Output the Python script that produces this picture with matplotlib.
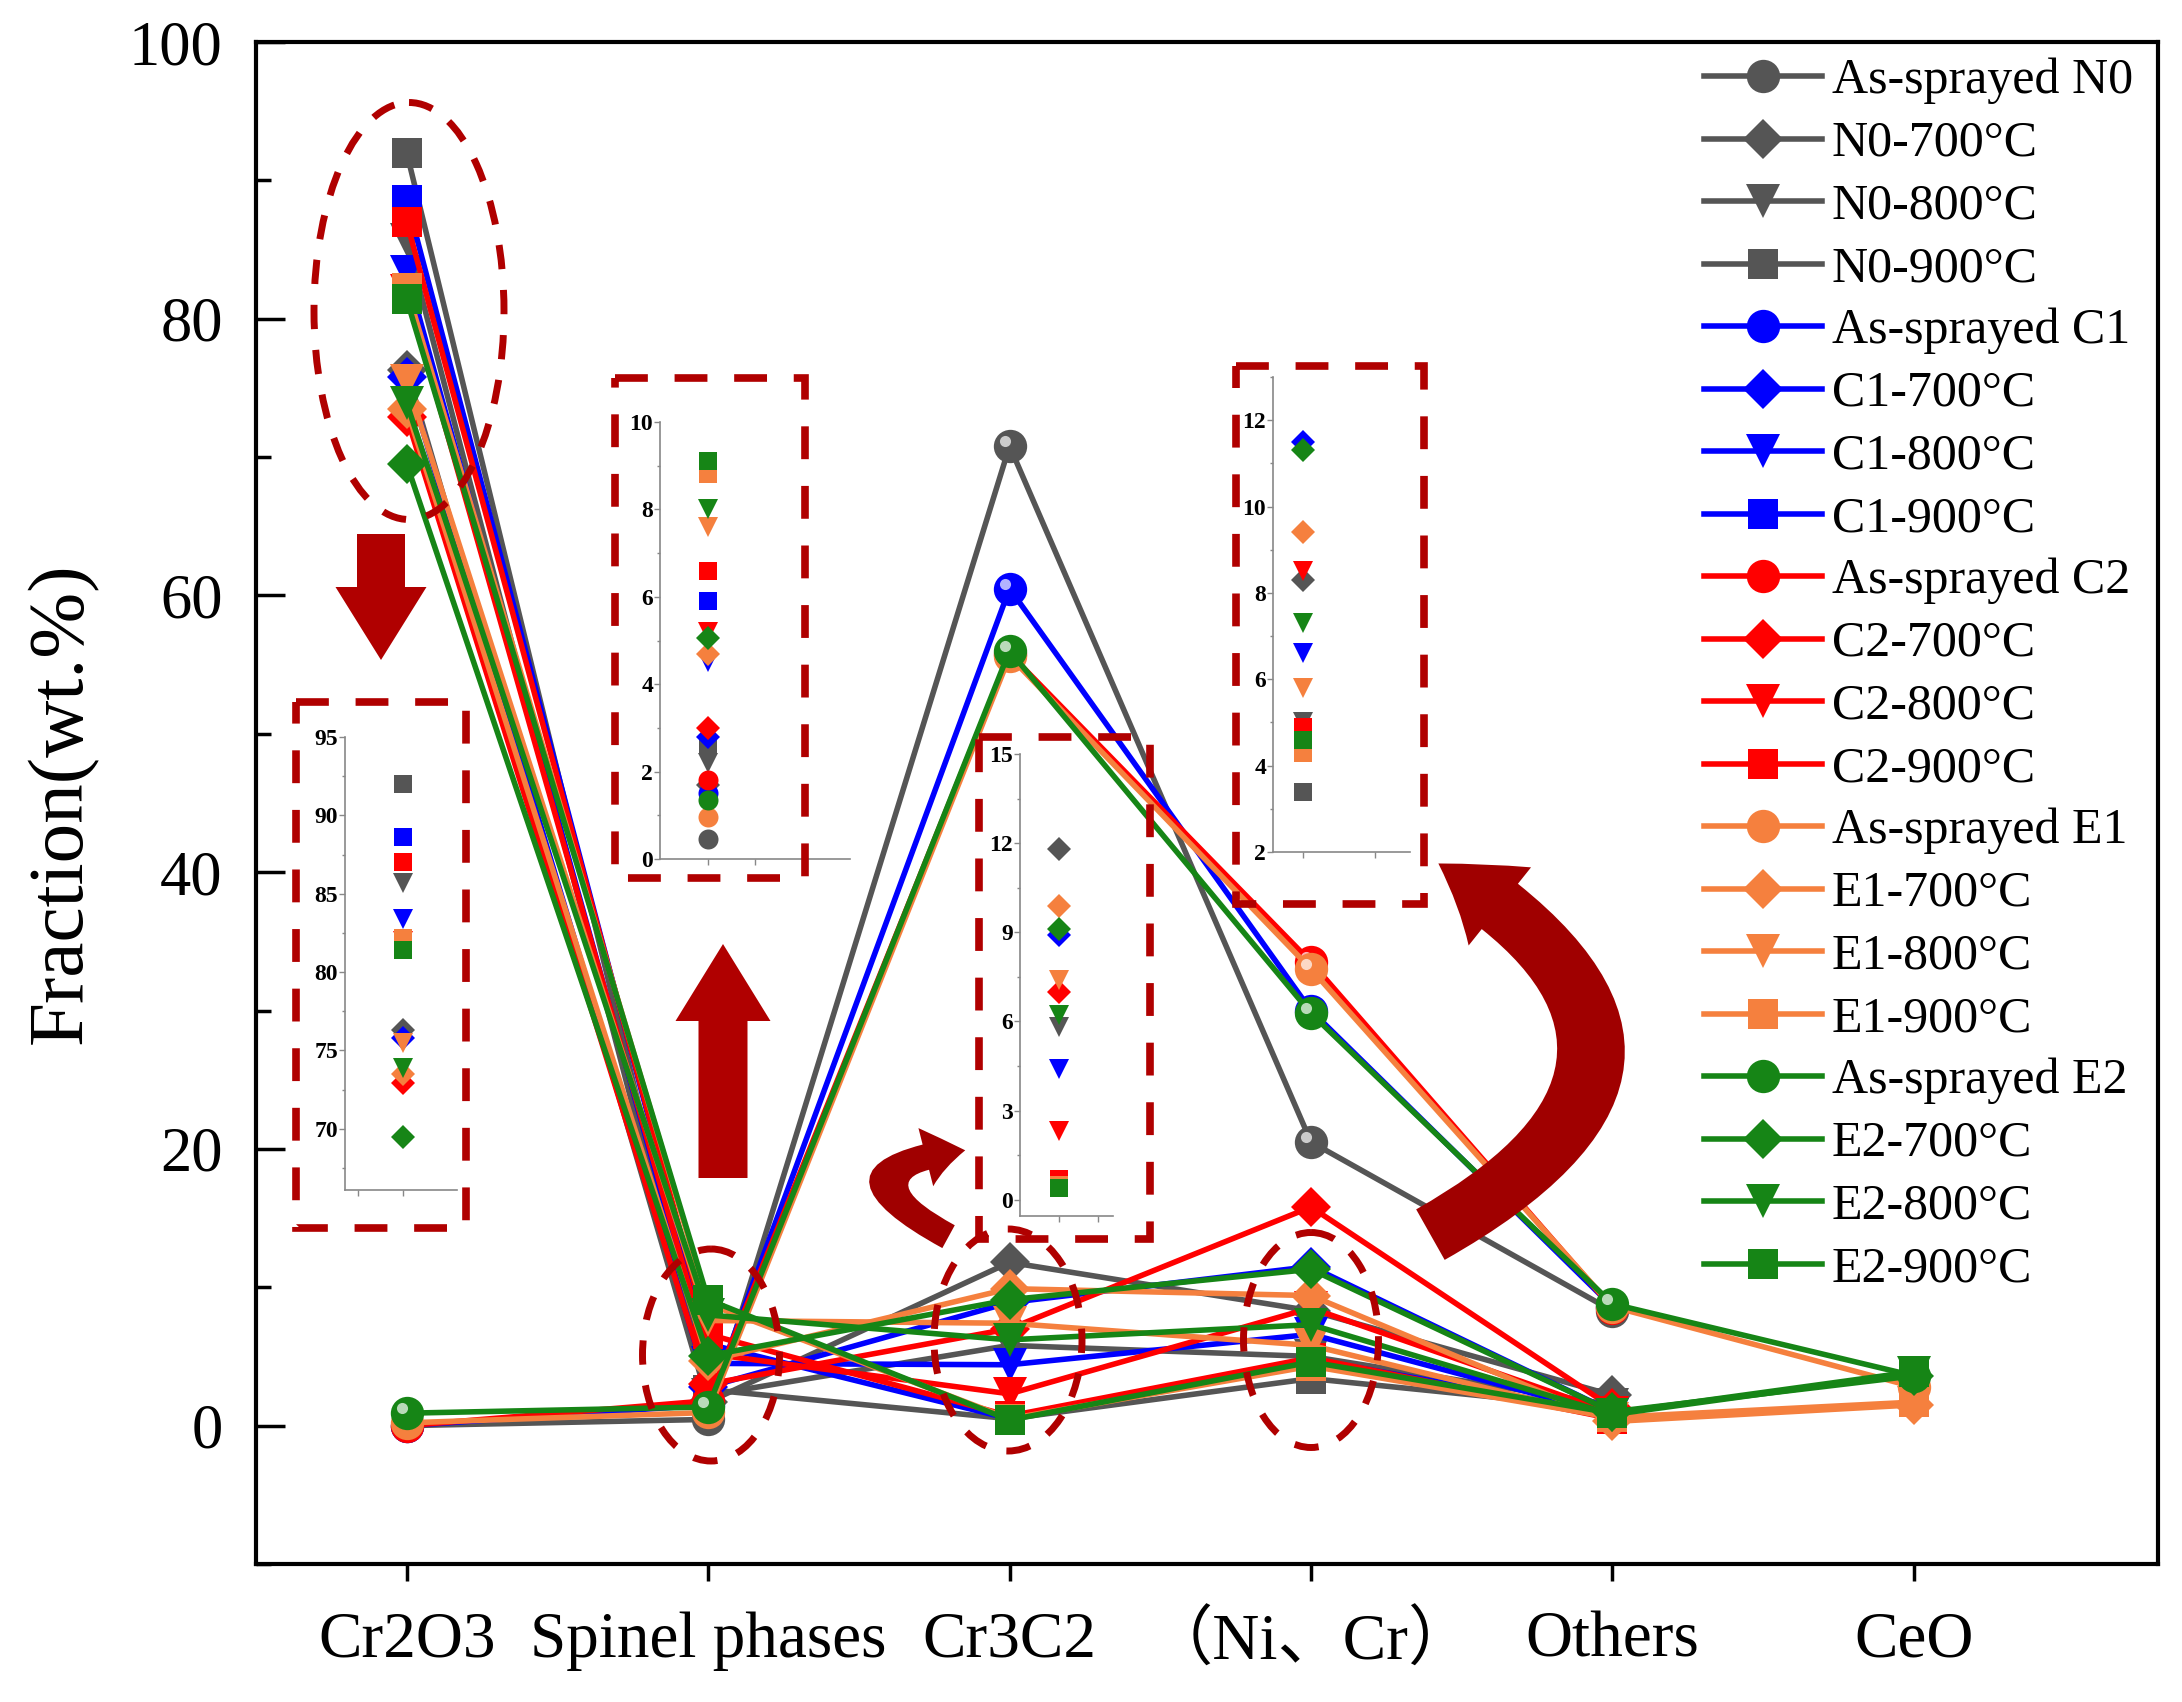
import numpy as np
import matplotlib
matplotlib.use("Agg")
import matplotlib.pyplot as plt
from matplotlib import patches, transforms
from matplotlib.ticker import MultipleLocator

plt.rcParams['font.family'] = ['Liberation Serif', 'Noto Sans CJK SC']

nan = np.nan
categories = ['Cr2O3', 'Spinel phases', 'Cr3C2', '（Ni、Cr）', 'Others', 'CeO']
states = ['As-sprayed', '700°C', '800°C', '900°C']
coatings = ['N0', 'C1', 'C2', 'E1', 'E2']

# rows: as-sprayed, 700, 800, 900 ; columns follow categories
n0 = [[0.0, 0.45, 70.8, 20.5, 8.3, nan],
      [76.3, 1.7, 11.8, 8.3, 2.2, nan],
      [85.7, 2.2, 5.8, 5.0, 1.5, nan],
      [92.0, 2.6, 0.5, 3.4, 1.2, nan]]
c1 = [[0.0, 1.5, 60.5, 30.0, 8.6, nan],
      [75.8, 2.8, 8.9, 11.5, 1.0, nan],
      [83.4, 4.5, 4.4, 6.6, 0.8, nan],
      [88.6, 5.9, 0.5, 4.8, 0.9, nan]]
c2 = [[0.0, 1.8, 55.8, 33.5, 8.5, nan],
      [72.9, 3.0, 7.0, 15.8, 1.3, nan],
      [82.0, 5.2, 2.3, 8.5, 0.9, nan],
      [87.0, 6.6, 0.7, 4.9, 0.5, nan]]
e1 = [[0.2, 0.95, 55.6, 33.0, 8.6, 2.8],
      [73.5, 4.7, 9.9, 9.4, 0.3, 1.5],
      [75.5, 7.6, 7.4, 5.8, 0.5, 1.6],
      [82.2, 8.8, 0.5, 4.3, 0.6, 1.7]]
e2 = [[0.9, 1.35, 56.0, 29.8, 8.8, 3.6],
      [69.5, 5.05, 9.1, 11.3, 1.0, 3.6],
      [73.9, 8.0, 6.2, 7.3, 0.8, 3.8],
      [81.4, 9.1, 0.4, 4.6, 0.9, 3.9]]
data = [n0, c1, c2, e1, e2]

colors = ['#555555', '#0000ff', '#ff0000', '#f5803e', '#168516']
markers = ['o', 'D', 'v', 's']
msize = [24, 20, 24, 22]
dec = '#b00000'

W, H = 2182, 1702
fig = plt.figure(figsize=(W / 100, H / 100), dpi=100)
pix = transforms.Affine2D().scale(1 / W, -1 / H).translate(0, 1) + fig.transFigure


def box(l, t, r, b):
    return [l / W, 1 - b / H, (r - l) / W, (b - t) / H]


ax = fig.add_axes(box(256, 42, 2158, 1564))
x = np.arange(1, len(categories) + 1)

for ci, coat in enumerate(coatings):
    for si, st in enumerate(states):
        y = data[ci][si]
        lab = 'As-sprayed ' + coat if si == 0 else coat + '-' + st
        ax.plot(x, y, color=colors[ci], lw=4, marker=markers[si], ms=msize[si],
                mec=colors[ci], mew=0, label=lab)
        if si == 0:
            hl = ax.transData + transforms.ScaledTranslation(-0.05, 0.05, fig.dpi_scale_trans)
            ax.plot(x, y, ls='none', marker='o', ms=8, color='white', alpha=0.7,
                    mew=0, transform=hl)

ax.set_xlim(0.5, 6.81)
ax.set_ylim(-10, 100)
ax.set_xticks(x)
ax.set_xticklabels(categories, fontsize=47)
ax.yaxis.set_major_locator(MultipleLocator(20))
ax.yaxis.set_minor_locator(MultipleLocator(10))
ax.tick_params(axis='y', which='major', direction='in', length=21, width=2.5, labelsize=45, pad=24)
ax.tick_params(axis='y', which='minor', direction='in', length=11, width=2.5)
ax.tick_params(axis='x', direction='out', length=12, width=2.5, pad=22)
for s in ax.spines.values():
    s.set_linewidth(3)
ax.set_ylabel('Fraction(wt.%)', fontsize=57, labelpad=22)

ax.legend(loc='upper left', bbox_to_anchor=(0.753, 1.0), frameon=False, fontsize=36,
          handlelength=2.35, handletextpad=0.2, labelspacing=0.32, borderaxespad=0.12,
          borderpad=0.2)

# zoomed insets: (box in pixels, column, ylim, major, minor, xlim, xticks)
insets = [((345, 737, 457, 1190), 0, (66.1, 95), 5, 2.5, (-0.3, 2.2), [0, 1]),
          ((660, 422, 850, 859), 1, (0, 10), 2, 1, (0, 4), [1, 2]),
          ((1020, 754, 1113, 1216), 2, (-0.55, 15), 3, 1.5, (0, 2.4), [1, 2]),
          ((1273, 377, 1410, 852), 3, (2, 13), 2, 1, (0.58, 2.48), [1, 2])]
for (bx, col, yl, mj, mn, xl, xt) in insets:
    ia = fig.add_axes(box(*bx))
    ia.patch.set_alpha(0)
    for ci in range(len(coatings)):
        for si in range(len(states)):
            ia.plot([1], [data[ci][si][col]], ls='none', marker=markers[si],
                    ms=msize[si] * 0.6, color=colors[ci], mew=0)
    ia.set_xlim(*xl)
    ia.set_ylim(*yl)
    ia.set_xticks(xt)
    ia.set_xticklabels([])
    ia.yaxis.set_major_locator(MultipleLocator(mj))
    ia.yaxis.set_minor_locator(MultipleLocator(mn))
    for side in ['top', 'right']:
        ia.spines[side].set_visible(False)
    for side in ['left', 'bottom']:
        ia.spines[side].set_color('#888888')
        ia.spines[side].set_linewidth(1.2)
    ia.tick_params(which='both', direction='out', color='#888888', width=1.0)
    ia.tick_params(which='major', length=4)
    ia.tick_params(which='minor', length=2.5)
    ia.tick_params(axis='y', labelsize=17, pad=1)
    for t in ia.get_yticklabels():
        t.set_fontweight('bold')

# dashed frames around insets
for (l, t, r, b) in [(296, 702, 466, 1228), (615, 378, 805, 878),
                     (979, 737, 1150, 1239), (1236, 366, 1424, 904)]:
    fig.add_artist(patches.Rectangle((l, t), r - l, b - t, fill=False, ec=dec, lw=5.5,
                                     ls=(0, (4.3, 3.5)), transform=pix))

# dashed ellipses around the zoomed points
for (cx, cy, w, h) in [(409, 311, 190, 417), (711, 1355, 137, 212),
                       (1008, 1340, 148, 222), (1311, 1340, 135, 215)]:
    fig.add_artist(patches.Ellipse((cx, cy), w, h, fill=False, ec=dec, lw=5,
                                   ls=(0, (3.5, 3)), transform=pix))

# block arrows
fig.add_artist(patches.FancyArrow(381, 534, 0, 126, width=48, head_width=91, head_length=73,
                                  length_includes_head=True, color=dec, lw=0, transform=pix))
fig.add_artist(patches.FancyArrow(723, 1178, 0, -234, width=49, head_width=95, head_length=77,
                                  length_includes_head=True, color=dec, lw=0, transform=pix))

# curved arrows
fig.add_artist(patches.FancyArrowPatch((951, 1238), (968, 1150), connectionstyle='arc3,rad=-1.6',
                                       arrowstyle='simple,head_width=60,head_length=40,tail_width=26',
                                       mutation_scale=0.72, color='#a00000', lw=0, transform=pix))
fig.add_artist(patches.FancyArrowPatch((1428, 1236), (1436, 862), connectionstyle='arc3,rad=0.85',
                                       arrowstyle='simple,head_width=100,head_length=75,tail_width=58',
                                       mutation_scale=0.72, color='#a00000', lw=0, transform=pix))

fig.savefig('out.png', dpi=100)
